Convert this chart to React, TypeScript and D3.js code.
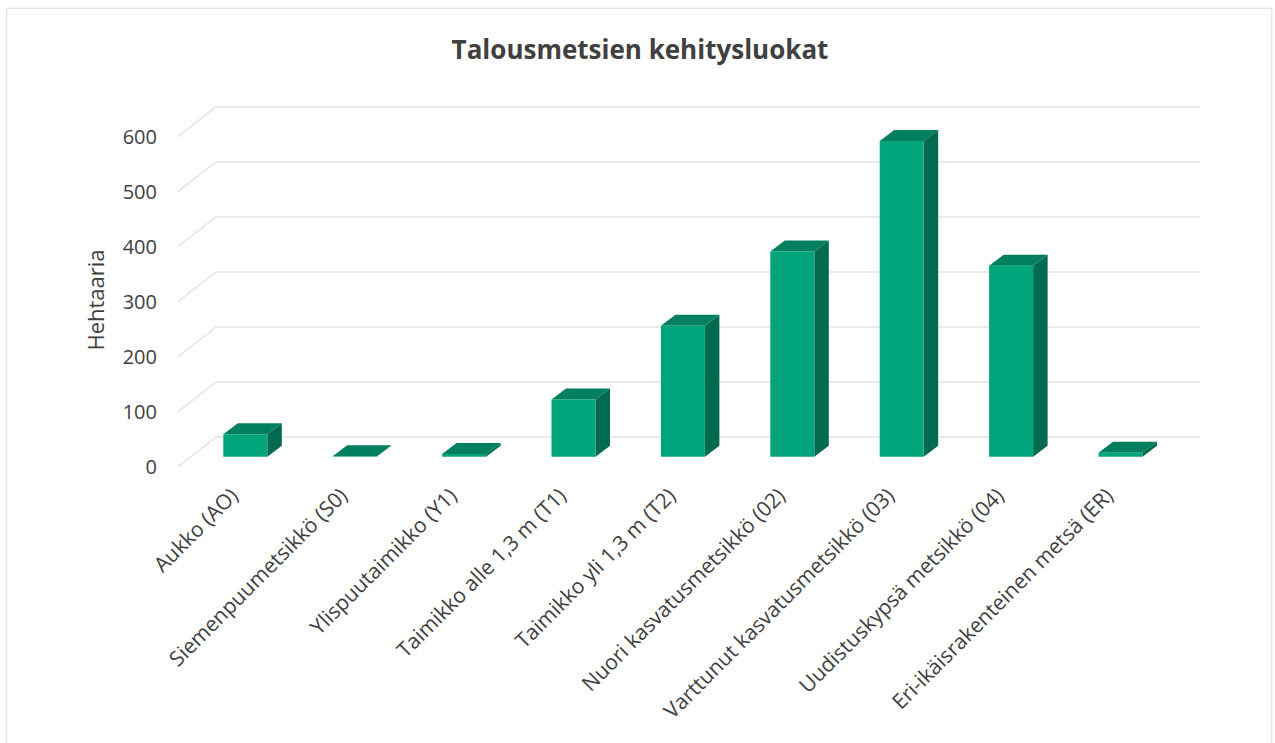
import React from "react";
import * as d3 from "d3";

const title = "Talousmetsien kehitysluokat";
const yAxisTitle = "Hehtaaria";
const categories = [
  "Aukko (AO)",
  "Siemenpuumetsikkö (S0)",
  "Ylispuutaimikko (Y1)",
  "Taimikko alle 1,3 m (T1)",
  "Taimikko yli 1,3 m (T2)",
  "Nuori kasvatusmetsikkö (02)",
  "Varttunut kasvatusmetsikkö (03)",
  "Uudistuskypsä metsikkö (04)",
  "Eri-ikäisrakenteinen metsä (ER)",
];
const values = [41, 1, 5, 104, 238, 373, 574, 347, 7];
const yTicks = [0, 100, 200, 300, 400, 500, 600];

const W = 1275;
const H = 743;
const FONT = "'Open Sans', 'DejaVu Sans', sans-serif";

// back wall / depth geometry
const wallLeft = 216;
const wallRight = 1200;
const wallDX = 38; // floor depth horizontal
const wallDY = 29.7; // floor depth vertical
const barW = 44;
const barDX = 14.5;
const barDY = -11;

const COL_FRONT = "#02a47b";
const COL_TOP = "#027f5e";
const COL_SIDE = "#016a4f";
const GRID = "#e4e4e4";
const TEXT = "#404040";

export default function App() {
  const yBack = d3.scaleLinear().domain([0, 600]).range([437, 107]);
  const yBar = d3.scaleLinear().domain([0, 600]).range([456.7, 126.7]);
  const xC = d3.scalePoint<string>().domain(categories).range([245.3, 1120.5]);

  return (
    <div style={{ position: "absolute", left: 0, top: 0 }}>
      <svg width={W} height={H} style={{ display: "block", background: "#fff" }}>
        <rect x={6.75} y={8.25} width={1265} height={760} fill="#fff" stroke="#e6e6e6" strokeWidth={1.5} />
        <text
          x={640}
          y={59}
          textAnchor="middle"
          fontFamily={FONT}
          fontWeight={700}
          fontSize={26}
          fill={TEXT}
        >
          {title}
        </text>
        {/* gridlines */}
        {yTicks.map((t) => (
          <g key={t}>
            <polyline
              points={`${wallLeft - wallDX},${yBack(t) + wallDY} ${wallLeft},${yBack(t)} ${wallRight},${yBack(t)}`}
              fill="none"
              stroke={GRID}
              strokeWidth={1.5}
            />
            <text
              x={157}
              y={yBack(t) + wallDY}
              dy="0.35em"
              textAnchor="end"
              fontFamily={FONT}
              fontSize={20}
              fill={TEXT}
            >
              {t}
            </text>
          </g>
        ))}
        <text
          transform={`translate(96,300) rotate(-90)`}
          textAnchor="middle"
          dy="0.35em"
          fontFamily={FONT}
          fontSize={22}
          fill={TEXT}
        >
          {yAxisTitle}
        </text>
        {/* bars */}
        {categories.map((c, i) => {
          const x0 = (xC(c) as number) - barW / 2;
          const x1 = x0 + barW;
          const yb = yBar(0);
          const yt = yBar(values[i]);
          const front = `${x0},${yt} ${x1},${yt} ${x1},${yb} ${x0},${yb}`;
          const top = `${x0},${yt} ${x1},${yt} ${x1 + barDX},${yt + barDY} ${x0 + barDX},${yt + barDY}`;
          const side = `${x1},${yt} ${x1 + barDX},${yt + barDY} ${x1 + barDX},${yb + barDY} ${x1},${yb}`;
          return (
            <g key={c}>
              <polygon points={side} fill={COL_SIDE} />
              <polygon points={top} fill={COL_TOP} />
              <polygon points={front} fill={COL_FRONT} />
            </g>
          );
        })}
        {/* category labels */}
        {categories.map((c) => (
          <text
            key={c}
            transform={`translate(${(xC(c) as number) - 6},${497}) rotate(-45)`}
            textAnchor="end"
            fontFamily={FONT}
            fontSize={21}
            fill={TEXT}
          >
            {c}
          </text>
        ))}
      </svg>
    </div>
  );
}
